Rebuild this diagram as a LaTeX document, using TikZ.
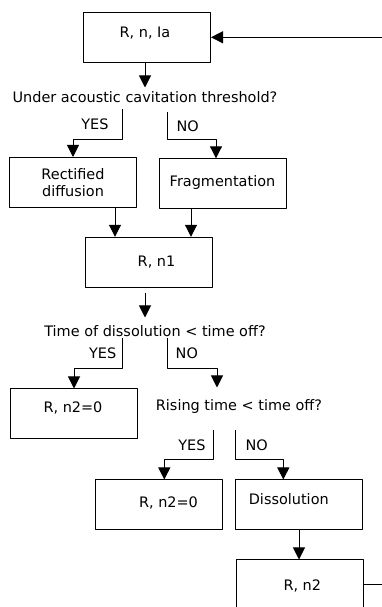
\documentclass[tikz,border=0pt]{standalone}
\usepackage{fontspec}
\setmainfont{DejaVu Sans}
\usetikzlibrary{arrows.meta}

\begin{document}
\begin{tikzpicture}[>={Triangle[length=12bp,width=12bp]},line join=bevel,line width=1bp,
  font=\fontsize{14.5}{17.5}\selectfont,
  stepbox/.style={draw,minimum width=127bp,minimum height=50bp,inner sep=0pt},
  boxtext/.style={text depth=0pt},
  question/.style={inner sep=0pt,text height=11bp,text depth=0pt},
  answer/.style={inner sep=0pt,text height=10.6bp,text depth=0pt}]
\useasboundingbox (0bp,0bp) rectangle (382bp,607bp);
\clip (0bp,0bp) rectangle (382bp,607bp);
%%
\node (rnia) at (147bp,569.7bp) [stepbox,label={[boxtext,shift={(-2bp,4.7bp)}]center:{R, n, Ia}}] {};
  \node (q1) at (145bp,510bp) [question] {Under acoustic cavitation threshold?};
  \node (rd) at (73bp,424.5bp) [stepbox,label={[align=center]center:{Rectified\\diffusion}}] {};
  \node (frag) at (222.5bp,423.2bp) [stepbox,label={[boxtext,shift={(0bp,3.2bp)}]center:{Fragmentation}}] {};
  \node (rn1) at (149.3bp,344.7bp) [stepbox,label={[boxtext,shift={(7.2bp,0.7bp)}]center:{R, n1}}] {};
  \node (q2) at (155bp,275.5bp) [question] {Time of dissolution < time off?};
  \node (rz1) at (74bp,193bp) [stepbox,label={[boxtext,shift={(-1bp,7.3bp)}]center:{R, n2=0}}] {};
  \node (q3) at (239bp,201.8bp) [question] {Rising time < time off?};
  \node (rz2) at (158.7bp,102bp) [stepbox,label={[boxtext,shift={(9.8bp,3bp)}]center:{R, n2=0}}] {};
  \node (diss) at (299bp,102bp) [stepbox,label={[boxtext,shift={(-10.2bp,6.3bp)}]center:{Dissolution}}] {};
  \node (rn2) at (300.3bp,22bp) [stepbox,label={[boxtext,shift={(2bp,0.3bp)}]center:{R, n2}}] {};
  \coordinate (back) at (392bp,22bp);
  \draw [black,->,shorten >=3.5bp] (rnia.south -| q1.north) -- (q1.north);
  \draw [black,->] ([xshift=-23bp,yshift=-6.5bp]q1.south) -- ++(0,-30bp) node [answer,midway,left=13bp] {YES} -| (rd.north);
  \draw [black,->] ([xshift=22bp,yshift=-9.5bp]q1.south) -- ++(0,-27bp) node [answer,midway,right=9bp] {NO} -| ([xshift=-6.5bp]frag.north);
  \draw [black,->] ([xshift=42bp]rd.south) -- ([xshift=42bp]rd.south |- rn1.north);
  \draw [black,->] ([xshift=-31.5bp]frag.south) -- ([xshift=-31.5bp]frag.south |- rn1.north);
  \draw [black,->,shorten <=5bp,shorten >=8bp] ([xshift=-4.3bp]rn1.south) -- ([xshift=-4.3bp]rn1.south |- q2.north);
  \draw [black,->] ([xshift=-32.3bp,yshift=-1bp]q2.south) -- ++(0,-30bp) node [answer,midway,left=6bp] {YES} -| (rz1.north);
  \draw [black,->,shorten >=11.7bp] ([xshift=12.7bp,yshift=-1bp]q2.south) -- ++(0,-30bp) node [answer,midway,right=7.5bp] {NO} -| ([xshift=-22bp]q3.north);
  \draw [black,->] ([xshift=-25.5bp,yshift=-19.3bp]q3.south) -- ++(0,-29bp) node [answer,midway,left=7.5bp] {YES} -| ([xshift=5.6bp]rz2.north);
  \draw [black,->] ([xshift=-4bp,yshift=-19.3bp]q3.south) -- ++(0,-29bp) node [answer,midway,right=10bp] {NO} -| ([xshift=-15.7bp]diss.north);
  \draw [black,->] (diss.south) -- (diss.south |- rn2.north);
  \draw [black,->] (rn2.east) -- (back) |- (rnia.east);
%
\end{tikzpicture}
\end{document}
